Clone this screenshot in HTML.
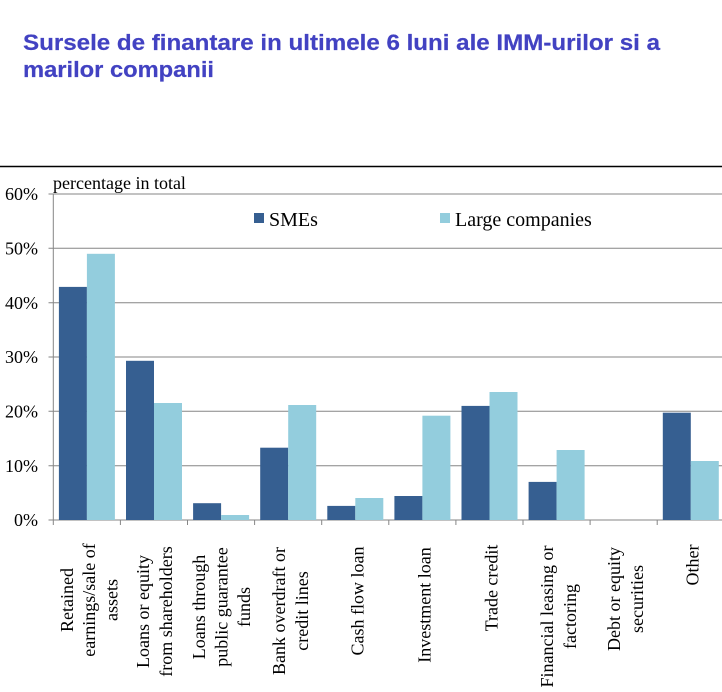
<!DOCTYPE html>
<html>
<head>
<meta charset="utf-8">
<style>
  html,body{margin:0;padding:0;background:#fff;}
  svg{display:block;}
</style>
</head>
<body>
<svg width="722" height="692" viewBox="0 0 722 692" xmlns="http://www.w3.org/2000/svg">
  <rect x="0" y="0" width="722" height="692" fill="#ffffff"/>
  <!-- Title -->
  <g font-family="'Liberation Sans', Arial, sans-serif" font-weight="bold" font-size="22" fill="#4242c2" stroke="#4242c2" stroke-width="0.2">
    <text x="23" y="50" textLength="637" lengthAdjust="spacingAndGlyphs">Sursele de finantare in ultimele 6 luni ale IMM-urilor si a</text>
    <text x="23" y="77" textLength="191" lengthAdjust="spacingAndGlyphs">marilor companii</text>
  </g>
  <!-- black separator line -->
  <line x1="0" y1="166.5" x2="722" y2="166.5" stroke="#000" stroke-width="1.6"/>

  <!-- gridlines -->
  <g stroke="#868686" stroke-width="1">
    <line x1="48.5" y1="194" x2="722" y2="194"/>
    <line x1="48.5" y1="248.3" x2="722" y2="248.3"/>
    <line x1="48.5" y1="302.7" x2="722" y2="302.7"/>
    <line x1="48.5" y1="357" x2="722" y2="357"/>
    <line x1="48.5" y1="411.3" x2="722" y2="411.3"/>
    <line x1="48.5" y1="465.7" x2="722" y2="465.7"/>
    <line x1="48.5" y1="520" x2="722" y2="520"/>
    <line x1="53.3" y1="194" x2="53.3" y2="525"/>
    <line x1="120.4" y1="520" x2="120.4" y2="525"/>
    <line x1="187.5" y1="520" x2="187.5" y2="525"/>
    <line x1="254.6" y1="520" x2="254.6" y2="525"/>
    <line x1="321.7" y1="520" x2="321.7" y2="525"/>
    <line x1="388.8" y1="520" x2="388.8" y2="525"/>
    <line x1="455.9" y1="520" x2="455.9" y2="525"/>
    <line x1="523" y1="520" x2="523" y2="525"/>
    <line x1="590.1" y1="520" x2="590.1" y2="525"/>
    <line x1="657.2" y1="520" x2="657.2" y2="525"/>
  </g>

  <!-- bars: SMEs -->
  <g fill="#365f91">
    <rect x="58.9" y="286.9" width="28" height="233.1"/>
    <rect x="126" y="360.8" width="28" height="159.2"/>
    <rect x="193.1" y="503.2" width="28" height="16.8"/>
    <rect x="260.2" y="447.7" width="28" height="72.3"/>
    <rect x="327.3" y="505.9" width="28" height="14.1"/>
    <rect x="394.4" y="496" width="28" height="24"/>
    <rect x="461.5" y="405.9" width="28" height="114.1"/>
    <rect x="528.6" y="481.9" width="28" height="38.1"/>
    <rect x="662.8" y="412.7" width="28" height="107.3"/>
  </g>
  <!-- bars: Large companies -->
  <g fill="#93cddd">
    <rect x="86.9" y="253.8" width="28" height="266.2"/>
    <rect x="154" y="403" width="28" height="117"/>
    <rect x="221.1" y="515" width="28" height="5"/>
    <rect x="288.2" y="405" width="28" height="115"/>
    <rect x="355.3" y="498" width="28" height="22"/>
    <rect x="422.4" y="415.7" width="28" height="104.3"/>
    <rect x="489.5" y="392" width="28" height="128"/>
    <rect x="556.6" y="450" width="28" height="70"/>
    <rect x="690.8" y="461" width="28" height="59"/>
  </g>

  <!-- Y axis labels -->
  <g font-family="'Liberation Serif', 'Times New Roman', serif" font-size="18" fill="#000" text-anchor="end">
    <text x="38" y="200">60%</text>
    <text x="38" y="254.5">50%</text>
    <text x="38" y="308.8">40%</text>
    <text x="38" y="363.1">30%</text>
    <text x="38" y="417.4">20%</text>
    <text x="38" y="471.8">10%</text>
    <text x="38" y="526.1">0%</text>
  </g>
  <text x="53" y="189" font-family="'Liberation Serif', 'Times New Roman', serif" font-size="18" fill="#000">percentage in total</text>

  <!-- Legend -->
  <rect x="254" y="213" width="10" height="10" fill="#365f91"/>
  <text x="269" y="226" font-family="'Liberation Serif', 'Times New Roman', serif" font-size="20" fill="#000">SMEs</text>
  <rect x="440" y="213" width="10" height="10" fill="#93cddd"/>
  <text x="455" y="226" font-family="'Liberation Serif', 'Times New Roman', serif" font-size="20" fill="#000">Large companies</text>

  <!-- X axis labels (rotated) -->
  <g font-family="'Liberation Serif', 'Times New Roman', serif" font-size="18" fill="#000" text-anchor="middle" dominant-baseline="central">
    <g transform="translate(0,600) rotate(-90)">
      <text x="0" y="67">Retained</text>
      <text x="0" y="89">earnings/sale of</text>
      <text x="0" y="111.5">assets</text>
    </g>
    <g transform="translate(0,611.5) rotate(-90)">
      <text x="0" y="143">Loans or equity</text>
      <text x="0" y="166">from shareholders</text>
    </g>
    <g transform="translate(0,607) rotate(-90)">
      <text x="0" y="199">Loans through</text>
      <text x="0" y="221.5">public guarantee</text>
      <text x="0" y="244">funds</text>
    </g>
    <g transform="translate(0,611) rotate(-90)">
      <text x="0" y="279">Bank overdraft or</text>
      <text x="0" y="302">credit lines</text>
    </g>
    <g transform="translate(0,601) rotate(-90)">
      <text x="0" y="357.5">Cash flow loan</text>
    </g>
    <g transform="translate(0,605) rotate(-90)">
      <text x="0" y="424.5">Investment loan</text>
    </g>
    <g transform="translate(0,588) rotate(-90)">
      <text x="0" y="491.5">Trade credit</text>
    </g>
    <g transform="translate(0,616.5) rotate(-90)">
      <text x="0" y="547">Financial leasing or</text>
      <text x="0" y="570">factoring</text>
    </g>
    <g transform="translate(0,599) rotate(-90)">
      <text x="0" y="614">Debt or equity</text>
      <text x="0" y="637">securities</text>
    </g>
    <g transform="translate(0,565) rotate(-90)">
      <text x="0" y="692.5">Other</text>
    </g>
  </g>
</svg>
</body>
</html>
